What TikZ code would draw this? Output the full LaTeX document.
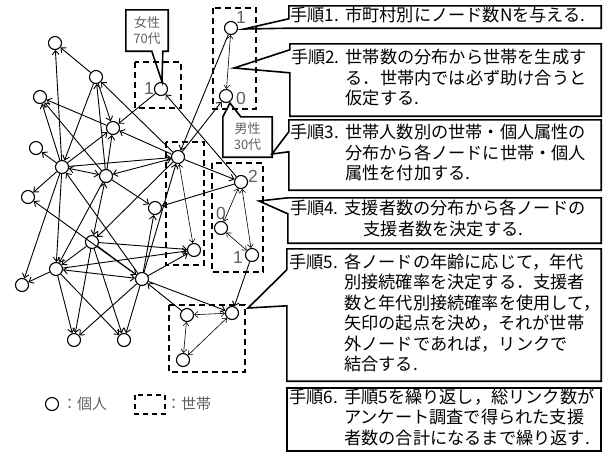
\documentclass[tikz,border=0pt]{standalone}
\usepackage{fontspec}
\setmainfont{Noto Sans CJK JP}
\newfontfamily\lat{Liberation Sans}
\usetikzlibrary{arrows.meta,calc}
\definecolor{lblgray}{gray}{0.38}
\newcommand{\steptext}[1]{\makebox[309pt][l]{\begin{tabular}{@{}l@{}l@{}}#1\end{tabular}}}
\newcommand{\stepno}[1]{手順#1.\hspace{0.35em}}
\tikzset{
  person/.style={circle, draw, line width=1.1pt, fill=white, minimum size=13pt, inner sep=0pt},
  link/.style={-{Straight Barb[length=4pt,width=7pt]}, line width=0.9pt},
  twoway/.style={{Straight Barb[length=4pt,width=7pt]}-{Straight Barb[length=4pt,width=7pt]}, line width=0.9pt},
  hlink/.style={{Straight Barb[length=3.5pt,width=6pt]}-{Straight Barb[length=3.5pt,width=6pt]}, line width=0.6pt},
  hhbox/.style={draw, line width=1.6pt, dash pattern=on 6pt off 4pt},
  stepbox/.style={draw=none, inner sep=0pt, font=\fontsize{17.2}{20}\selectfont},
  outline/.style={line width=1.6pt, line join=miter},
  callbox/.style={draw=none, inner sep=0pt, align=center, text=lblgray, font=\fontsize{13}{16}\selectfont},
  lbl/.style={inner sep=0pt, text=lblgray, font=\lat\fontsize{17.5}{17.5}\selectfont},
  legtext/.style={inner sep=0pt, anchor=west, text=lblgray, font=\fontsize{15}{16}\selectfont}
}
\begin{document}
\begin{tikzpicture}[x=1pt,y=-1pt]
\useasboundingbox (0,0) rectangle (603,459);

% household boxes
\draw[hhbox] (135,62) rectangle (181,108);
\draw[hhbox] (213,8) rectangle (256,109);
\draw[hhbox] (166,142) rectangle (204,265);
\draw[hhbox] (212,163) rectangle (263,272);
\draw[hhbox] (169,305) rectangle (245,372);

% digit labels
\node[lbl] (d1) at (149,88) {1};
\node[lbl] (d2) at (241,17) {1};
\node[lbl] (d3) at (241,98) {0};
\node[lbl] (d4) at (253,176) {2};
\node[lbl] (d5) at (221,213) {0};
\node[lbl] (d6) at (238,257) {1};

% persons
\node[person] (A) at (55,43) {};
\node[person] (B) at (96,77) {};
\node[person] (C) at (40,97) {};
\node[person] (W1) at (161,89) {};
\node[person] (T1) at (231,28) {};
\node[person] (T0) at (226,96) {};
\node[person] (D) at (113,128) {};
\node[person] (E) at (36,148) {};
\node[person] (F) at (62,167) {};
\node[person] (G) at (106,176) {};
\node[person] (H) at (178,157) {};
\node[person] (I) at (28,197) {};
\node[person] (K) at (241,182) {};
\node[person] (J) at (155,208) {};
\node[person] (L) at (221,228) {};
\node[person] (O) at (92,242) {};
\node[person] (N) at (194,250) {};
\node[person] (M) at (252,255) {};
\node[person] (P) at (56,269) {};
\node[person] (R) at (142,279) {};
\node[person] (Q) at (22,285) {};
\node[person] (V) at (187,315) {};
\node[person] (X) at (232,313) {};
\node[person] (S) at (74,340) {};
\node[person] (U) at (124,340) {};
\node[person] (Y) at (183,360) {};

% links
\foreach \a/\b in {B/A, F/A, B/F, B/D, G/B, H/B, W1/D, K/W1, T1/H, H/T0, D/C, F/C, G/C,
  F/E, F/I, F/D, G/D, F/H, H/D, H/K, G/J, K/J, R/J, R/H, O/N, P/N, R/N, O/P, O/S, O/U,
  O/R, P/S, P/U, P/Q, R/S, R/U, F/P, F/Q, G/P, H/O, R/I, R/F, V/R, R/X, M/X}
  \draw[link] (\a) -- (\b);
\foreach \a/\b in {F/G, G/H, P/R, G/O}
  \draw[twoway] (\a) -- (\b);
\foreach \a/\b in {T1/T0, H/N, K/L, L/M, K/M, V/X, V/Y, X/Y}
  \draw[hlink] (\a) -- (\b);

% attribute callouts
\node[callbox, minimum width=42pt, minimum height=41pt] (cf) at (147,30.5) {女性\\70代};
\draw[outline] (cf.north west) -- (cf.north east) -- (cf.south east)
  -- ($(cf.south west)+(37,0)$) -- ($(W1.north)+(1,0)$) -- ($(cf.south west)+(26,0)$)
  -- (cf.south west) -- cycle;
\node[callbox, minimum width=49pt, minimum height=40pt] (cm) at (247.5,137) {男性\\30代};
\draw[outline] (cm.north west) -- ($(T0.south)+(4,0)$) -- ($(cm.north west)+(18,0)$)
  -- (cm.north east) -- (cm.south east) -- (cm.south west) -- cycle;

% step boxes
\coordinate (p1) at (244,29);
\coordinate (p2) at (234,68);
\coordinate (p3) at (272,154);
\coordinate (p4) at (259,201);
\coordinate (p5) at (248,308);

\node[stepbox, minimum width=312pt, minimum height=22pt] (s1) at (445,17)
  {\steptext{\stepno{1} & 市町村別にノード数Nを与える.}};
\draw[outline] (s1.north west) -- (s1.north east) -- (s1.south east) -- (s1.south west)
  -- (p1) -- ($(s1.north west)+(0,13)$) -- cycle;

\node[stepbox, minimum width=311pt, minimum height=72pt] (s2) at (445.5,80)
  {\steptext{\stepno{2} & 世帯数の分布から世帯を生成す\\ & る．世帯内では必ず助け合うと\\ & 仮定する.}};
\draw[outline] (s2.north west) -- (s2.north east) -- (s2.south east) -- (s2.south west)
  -- ($(s2.north west)+(0,29)$) -- (p2) -- ($(s2.north west)+(0,6)$) -- cycle;

\node[stepbox, minimum width=312pt, minimum height=70pt] (s3) at (445,155)
  {\steptext{\stepno{3} & 世帯人数別の世帯・個人属性の\\ & 分布から各ノードに世帯・個人\\ & 属性を付加する.}};
\draw[outline] (s3.north west) -- (s3.north east) -- (s3.south east) -- (s3.south west)
  -- ($(s3.north west)+(0,32)$) -- (p3) -- ($(s3.north west)+(0,12)$) -- cycle;

\node[stepbox, minimum width=313pt, minimum height=45pt] (s4) at (444.5,220.5)
  {\steptext{\stepno{4} & 支援者数の分布から各ノードの\\ & \hspace{1.1em}支援者数を決定する.}};
\draw[outline] (s4.north west) -- (s4.north east) -- (s4.south east) -- (s4.south west)
  -- ($(s4.north west)+(0,16)$) -- (p4) -- cycle;

\node[stepbox, minimum width=314pt, minimum height=132pt] (s5) at (444,315)
  {\steptext{\stepno{5} & 各ノードの年齢に応じて，年代\\ & 別接続確率を決定する．支援者\\ & 数と年代別接続確率を使用して，\\ & 矢印の起点を決め，それが世帯\\ & 外ノードであれば，リンクで\\ & 結合する.}};
\draw[outline] (s5.north west) -- (s5.north east) -- (s5.south east) -- (s5.south west)
  -- ($(s5.north west)+(0,57)$) -- (p5) -- ($(s5.north west)+(0,21)$) -- cycle;

\node[stepbox, draw, line width=1.6pt, minimum width=314pt, minimum height=63pt] (s6) at (444,419.5)
  {\steptext{\stepno{6} & 手順5を繰り返し，総リンク数が\\ & アンケート調査で得られた支援\\ & 者数の合計になるまで繰り返す.}};

% legend
\node[person] (lg) at (52,404) {};
\node[legtext] (lgt1) at (62,404) {：個人};
\draw[hhbox, line width=1.5pt, dash pattern=on 5pt off 4pt] (135,395) rectangle (165,414);
\node[legtext] (lgt2) at (166,404) {：世帯};
\end{tikzpicture}
\end{document}
